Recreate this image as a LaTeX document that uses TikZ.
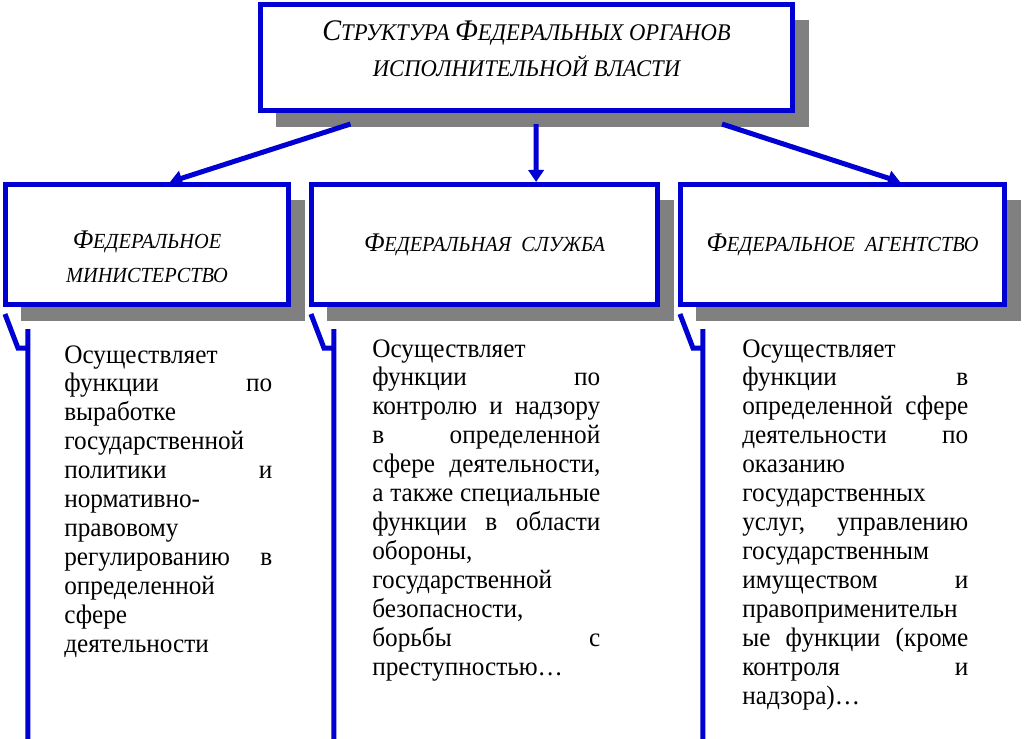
\documentclass[tikz,border=0pt]{standalone}
\usepackage{fontspec}
\setmainfont{Liberation Serif}[FakeStretch=0.945]
\usepackage{graphicx}
\usetikzlibrary{arrows.meta,shadows}

\definecolor{frameblue}{RGB}{0,0,210}
\definecolor{shadowgray}{RGB}{128,128,128}
\newcommand{\initial}[1]{\scalebox{1.25}{#1}}

\begin{document}
\begin{tikzpicture}[x=0.025cm, y=-0.025cm,
    unitbox/.style={draw=frameblue, line width=0.125cm, fill=white, inner sep=0pt,
      align=center, minimum height=3cm,
      drop shadow={shadow xshift=0.4cm, shadow yshift=-0.4cm, fill=shadowgray, opacity=1}},
    headtext/.style={font=\itshape\fontsize{17}{26}\selectfont},
    unittext/.style={font=\itshape\fontsize{15.3}{24}\selectfont},
    bodytext/.style={anchor=base west, inner sep=0pt, align=justify,
      font=\fontsize{19}{20.6}\selectfont,
      execute at begin node={\tolerance=10000 \hbadness=10000}},
    link/.style={draw=frameblue, line width=0.125cm, -{Triangle[length=0.3cm, width=0.38cm]}},
    bracket/.style={draw=frameblue, line width=0.125cm}]
    \useasboundingbox (0,0) rectangle (1024,738);

    % boxes
    \node[unitbox, headtext, minimum width=13.3cm, minimum height=2.65cm] (top) at (526.5,57.5)
        {\initial{С}ТРУКТУРА \initial{Ф}ЕДЕРАЛЬНЫХ ОРГАНОВ\\ИСПОЛНИТЕЛЬНОЙ ВЛАСТИ\rule[-0.45cm]{0pt}{0.45cm}};
    \node[unitbox, unittext, minimum width=7.075cm] (min) at (147,244.5)
        {\rule{0pt}{1.07cm}\initial{Ф}ЕДЕРАЛЬНОЕ\\МИНИСТЕРСТВО};
    \node[unitbox, unittext, minimum width=8.65cm] (svc) at (484.5,244.5)
        {\initial{Ф}ЕДЕРАЛЬНАЯ\ \ СЛУЖБА};
    \node[unitbox, unittext, minimum width=8.1cm] (agn) at (842.5,244.5)
        {\initial{Ф}ЕДЕРАЛЬНОЕ\ \ АГЕНТСТВО};

    % arrows
    \draw[link] ([shift={(-176,11)}]top.south) -- ([xshift=0.575cm]min.north);
    \draw[link] ([shift={(9.5,11)}]top.south) -- ([xshift=1.29cm]svc.north);
    \draw[link] ([shift={(195.5,11)}]top.south) -- ([xshift=1.44cm]agn.north);

    % brackets
    \foreach \b in {min,svc,agn} {
        \draw[bracket] ([shift={(2,7)}]\b.south west) -- ++(13,34) -- ++(10,0)
            ([shift={(25,22)}]\b.south west) -- ++(0,420);
    }

    % texts
    \node[bodytext, text width=5.2cm] (mintext) at (64,363)
        {Осуществляет\newline
         функции по\linebreak
         выработке\newline
         государственной\newline
         политики и\linebreak
         нормативно-\newline
         правовому\newline
         регулированию в\linebreak
         определенной\newline
         сфере\newline
         деятельности};
    \node[bodytext, text width=5.7cm] (svctext) at (372,357)
        {Осуществляет\newline
         функции по\linebreak
         контролю и надзору\linebreak
         в определенной\linebreak
         сфере деятельности,\linebreak
         а также специальные\linebreak
         функции в области\linebreak
         обороны,\newline
         государственной\newline
         безопасности,\newline
         борьбы с\linebreak
         преступностью…};
    \node[bodytext, text width=5.65cm] (agntext) at (742,357)
        {Осуществляет\newline
         функции в\linebreak
         определенной сфере\linebreak
         деятельности по\linebreak
         оказанию\newline
         государственных\newline
         услуг, управлению\linebreak
         государственным\newline
         имуществом и\linebreak
         правоприменительн\newline
         ые функции (кроме\linebreak
         контроля и\linebreak
         надзора)…};
\end{tikzpicture}
\end{document}
